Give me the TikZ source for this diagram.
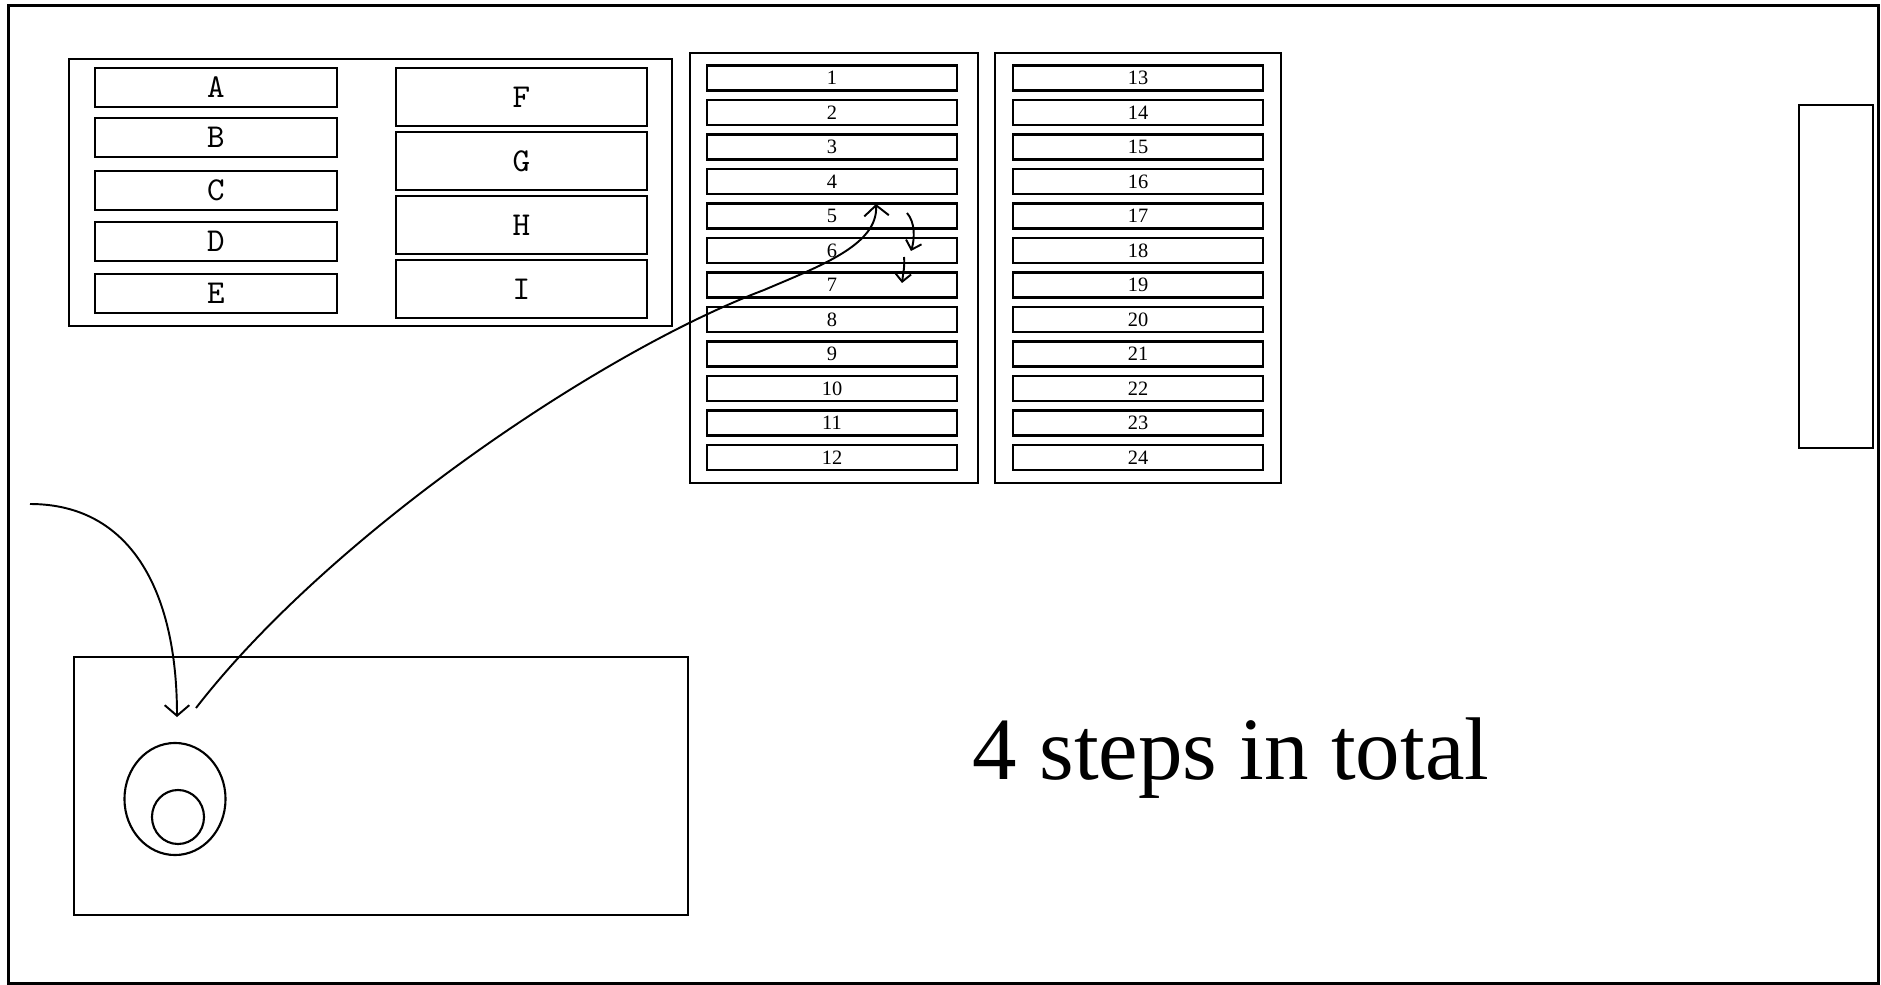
\documentclass[tikz,border=0pt]{standalone}
\usepackage{fontspec}
\setmainfont{Liberation Serif}
\usetikzlibrary{arrows.meta,shapes.geometric}
\begin{document}
\begin{tikzpicture}[x=0.01cm,y=-0.01cm,
  box/.style={draw, line width=0.7pt, rectangle, inner sep=0pt},
  cbox/.style={box},
  lbox/.style={box, minimum width=2.42cm, minimum height=0.39cm, font=\ttfamily\fontsize{9.5}{9.5}\selectfont},
  rbox/.style={box, minimum width=2.51cm, minimum height=0.58cm, font=\ttfamily\fontsize{9.5}{9.5}\selectfont},
  nbox/.style={box, minimum width=2.5cm, minimum height=0.25cm, font=\fontsize{5.8}{6}\selectfont},
  oval/.style={draw, line width=0.6pt, ellipse, inner sep=0pt},
  conn/.style={line width=0.55pt, -{Straight Barb[length=3pt,width=7pt]}},
  smallconn/.style={line width=0.55pt, -{Straight Barb[length=2.3pt,width=4.6pt]}}]
\useasboundingbox (0,0) rectangle (1881,985);
% outer frame
\node[box, minimum width=18.69cm, minimum height=9.77cm] (frame) at (943.5,494.5) {};
% letter container
\node[cbox, minimum width=6.03cm, minimum height=2.67cm] (letters) at (370.5,192.5) {};
\node[lbox] (A) at (216,87.5) {A};
\node[lbox] (B) at (216,137.5) {B};
\node[lbox] (C) at (216,190.5) {C};
\node[lbox] (D) at (216,241.5) {D};
\node[lbox] (E) at (216,293.5) {E};
\node[rbox] (F) at (521.5,97) {F};
\node[rbox] (G) at (521.5,161) {G};
\node[rbox] (H) at (521.5,225) {H};
\node[rbox] (I) at (521.5,289) {I};
% number containers
\node[cbox, minimum width=2.88cm, minimum height=4.30cm] (col1) at (834,268) {};
\node[cbox, minimum width=2.86cm, minimum height=4.30cm] (col2) at (1138,268) {};
\foreach \i [evaluate=\i as \j using int(\i+12)] in {1,...,12} {
  \node[nbox] (n\i) at (832,{78+34.5*(\i-1)}) {\i};
  \node[nbox] (n\j) at (1138,{78+34.5*(\i-1)}) {\j};
}
% right tall rectangle
\node[cbox, minimum width=0.74cm, minimum height=3.43cm] (tall) at (1836,276.5) {};
% bottom box with ellipses
\node[cbox, minimum width=6.14cm, minimum height=2.58cm] (bottom) at (381,786) {};
\node[oval, minimum width=1.01cm, minimum height=1.12cm] (outerE) at (175,799) {};
\node[oval, minimum width=0.52cm, minimum height=0.54cm] (innerE) at (178,817) {};
% text
\node[anchor=base, font=\fontsize{25.3}{30}\selectfont, inner sep=0pt] (caption) at (1231,779) {4 steps in total};
% connectors
\coordinate (s1) at (30,504);
\coordinate (t1) at (177,717);
\draw[conn] (s1) .. controls (130,504) and (177,590) .. (t1);
\coordinate (s2) at (196,708);
\coordinate (m2) at (764,290);
\coordinate (t2) at (876,204);
\draw[conn] (s2) .. controls (330,535) and (600,352) .. (m2) .. controls (820,266) and (878,245) .. (t2);
\coordinate (s3) at (907,213);
\coordinate (t3) at (911,251);
\draw[smallconn] (s3) .. controls (915,222) and (915,238) .. (t3);
\coordinate (s4) at (904,257);
\coordinate (t4) at (902,283);
\draw[smallconn] (s4) .. controls (905,266) and (903,274) .. (t4);
\end{tikzpicture}
\end{document}
